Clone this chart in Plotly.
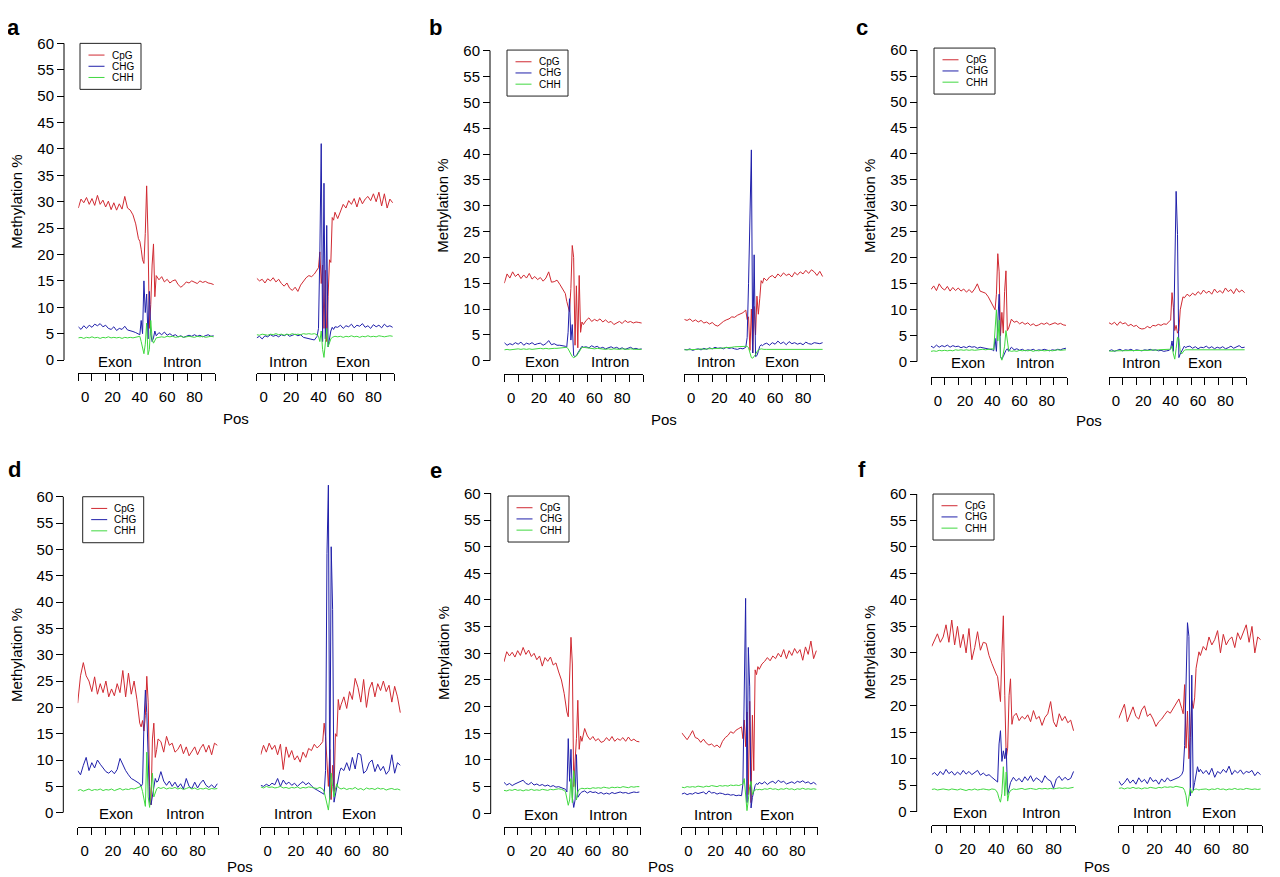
import plotly.graph_objects as go

W, H = 1280, 877
OFF = 8            # the page body adds an 8px margin around the figure
YSCALE = 885 / 877  # the photo squeezes 885 page rows into 877
FW, FH = W - 2 * OFF, H

# positions along each flank (denser around the splice junction)
POS = list(range(-5, 40, 2)) + list(range(40, 53)) + list(range(54, 95, 2))

# ---- panel a ----
a_ei_cpg = [28.8, 30.5, 29.8, 30.8, 29.5, 30.6, 29.3, 31.2, 29.5, 30.3, 29.0, 30.1, 28.5, 29.8, 28.4, 29.6, 28.6, 31.0, 28.8, 28.4, 27.5, 25.8, 23.0,
            22.5, 21.0, 19.0, 18.3, 24.0, 33.0, 23.5, 6.0, 10.5, 18.0, 22.0, 12.0, 16.0,
            15.2, 15.8, 14.8, 15.3, 14.6, 15.0, 15.2, 14.3, 13.8, 14.2, 14.8, 14.6, 15.0, 14.8, 14.5, 15.0, 14.7, 14.9, 14.6, 14.5, 14.3]
a_ei_chg = [6.3, 5.8, 6.5, 6.0, 6.6, 6.2, 6.8, 6.5, 6.9, 6.3, 6.6, 6.0, 5.8, 6.3, 5.6, 6.0, 5.8, 6.4, 5.7, 5.6, 5.4, 5.2, 5.0,
            4.8, 7.5, 5.0, 15.0, 9.0, 12.5, 4.0, 13.0, 5.0, 3.5, 4.2, 5.5, 4.6,
            5.2, 4.8, 5.3, 4.7, 5.0, 4.6, 4.8, 4.4, 4.6, 4.3, 4.5, 4.7, 4.5, 4.8, 4.5, 4.7, 4.4, 4.6, 4.8, 4.5, 4.6]
a_ei_chh = [4.2, 4.3, 4.1, 4.3, 4.2, 4.4, 4.2, 4.3, 4.1, 4.3, 4.2, 4.4, 4.2, 4.3, 4.2, 4.3, 4.1, 4.3, 4.2, 4.3, 4.2, 4.3, 4.4,
            4.5, 3.5, 2.5, 1.2, 3.0, 7.0, 1.0, 2.0, 7.5, 4.0, 3.2, 3.8, 4.2,
            4.3, 4.4, 4.3, 4.5, 4.4, 4.5, 4.3, 4.4, 4.5, 4.3, 4.4, 4.5, 4.4, 4.3, 4.5, 4.4, 4.5, 4.3, 4.4, 4.5, 4.4]
a_ie_cpg = [15.5, 15.0, 15.3, 14.6, 15.4, 15.0, 15.6, 14.8, 15.3, 14.5, 14.0, 14.6, 13.6, 13.2, 13.8, 13.0, 14.2, 15.0, 15.6, 16.0, 15.8, 16.3, 17.0,
            17.5, 20.5, 14.5, 18.0, 6.0, 17.0, 3.5, 12.0, 19.0, 18.5, 27.0, 26.5, 28.0,
            26.8, 28.0, 29.5, 28.8, 30.2, 29.5, 30.6, 29.0, 30.8, 29.6, 30.5, 31.0, 30.2, 31.5, 30.0, 31.8, 29.2, 31.5, 28.8, 30.5, 29.8]
a_ie_chg = [4.2, 4.5, 4.0, 4.6, 4.4, 4.8, 4.5, 4.7, 4.4, 4.8, 4.6, 4.9, 4.5, 4.7, 4.9, 4.6, 4.8, 4.3, 4.2, 4.0, 3.9, 3.8, 4.5,
            6.0, 20.5, 41.0, 3.5, 33.5, 4.0, 25.5, 2.5, 4.5, 5.5, 6.2, 5.8, 6.3,
            6.2, 6.6, 6.0, 6.5, 6.3, 6.8, 6.1, 6.6, 6.4, 6.9, 6.2, 6.5, 6.0, 6.7, 6.3, 6.6, 6.1, 6.8, 6.3, 6.5, 6.2]
a_ie_chh = [4.8, 4.7, 4.9, 4.8, 4.7, 4.9, 4.8, 5.0, 4.8, 4.9, 4.7, 4.9, 4.8, 5.0, 4.8, 4.9, 4.8, 5.0, 4.9, 5.0, 4.9, 5.0, 4.8,
            4.5, 3.5, 5.5, 2.0, 0.5, 4.0, 6.0, 2.5, 3.5, 4.0, 4.3, 4.4, 4.5,
            4.4, 4.5, 4.3, 4.5, 4.4, 4.6, 4.4, 4.5, 4.3, 4.5, 4.4, 4.6, 4.4, 4.5, 4.4, 4.6, 4.5, 4.4, 4.5, 4.6, 4.5]

# ---- panel b ----
b_ei_cpg = [15.0, 16.8, 16.0, 17.2, 16.3, 16.8, 15.9, 16.6, 16.0, 16.9, 15.8, 16.3, 15.7, 16.1, 15.4, 16.0, 17.2, 15.2, 15.3, 15.6, 14.8, 14.0, 13.0,
            11.5, 10.5, 9.5, 14.0, 22.3, 20.0, 3.0, 14.5, 2.5, 16.5, 5.5, 7.5, 7.0,
            7.8, 8.3, 7.6, 8.0, 7.7, 8.1, 7.5, 7.9, 7.4, 7.6, 7.0, 7.3, 7.6, 7.2, 7.8, 7.4, 7.6, 7.3, 7.5, 7.4, 7.3]
b_ei_chg = [3.5, 3.0, 3.3, 3.1, 3.5, 3.2, 3.6, 3.0, 3.4, 3.2, 3.5, 3.1, 3.3, 3.4, 3.0, 3.3, 3.9, 3.1, 3.3, 3.0, 3.0, 2.9, 2.8,
            2.6, 5.5, 12.0, 4.0, 7.0, 1.0, 0.8, 1.0, 1.5, 2.0, 2.5, 2.8, 2.6,
            2.7, 2.5, 2.9, 2.6, 2.8, 2.4, 2.6, 2.3, 2.5, 2.7, 2.4, 2.6, 2.3, 2.5, 2.2, 2.4, 2.6, 2.3, 2.4, 2.2, 2.3]
b_ei_chh = [2.1, 2.2, 2.1, 2.2, 2.2, 2.3, 2.2, 2.3, 2.2, 2.3, 2.2, 2.3, 2.3, 2.4, 2.3, 2.4, 2.3, 2.4, 2.4, 2.4, 2.5, 2.5, 2.6,
            2.6, 2.3, 1.8, 1.2, 0.8, 0.6, 0.7, 0.9, 1.3, 1.8, 2.3, 2.6, 2.6,
            2.5, 2.4, 2.4, 2.3, 2.4, 2.3, 2.3, 2.2, 2.3, 2.2, 2.3, 2.2, 2.2, 2.3, 2.2, 2.2, 2.3, 2.2, 2.2, 2.2, 2.2]
b_ie_cpg = [8.0, 7.8, 8.1, 7.6, 7.9, 7.5, 7.8, 7.3, 7.5, 7.1, 7.4, 6.9, 6.7, 7.2, 7.6, 7.9, 8.1, 8.5, 8.4, 8.8, 9.0, 9.3, 9.8,
            8.0, 8.5, 2.0, 10.0, 1.5, 10.5, 5.0, 12.5, 9.0, 12.0, 15.5, 15.0, 16.0,
            15.5, 16.2, 16.5, 16.0, 16.8, 16.3, 17.0, 16.5, 16.8, 16.2, 17.1, 16.6, 17.2, 16.8, 17.5, 16.9, 17.6, 17.2, 16.5, 17.3, 16.3]
b_ie_chg = [2.2, 2.1, 2.3, 2.0, 2.2, 2.3, 2.1, 2.4, 2.2, 2.5, 2.3, 2.6, 2.4, 2.5, 2.3, 2.6, 2.4, 2.5, 2.3, 2.2, 2.4, 2.3, 2.6,
            4.5, 15.0, 30.5, 40.8, 1.5, 20.5, 0.8, 1.0, 1.8, 2.8, 3.1, 2.9, 3.2,
            3.4, 3.0, 3.5, 3.2, 3.8, 3.3, 3.6, 3.1, 3.7, 3.3, 3.5, 3.2, 3.4, 3.1, 3.6, 3.3, 3.2, 3.5, 3.4, 3.3, 3.5]
b_ie_chh = [2.1, 2.1, 2.2, 2.1, 2.2, 2.2, 2.3, 2.2, 2.3, 2.3, 2.4, 2.3, 2.4, 2.4, 2.5, 2.5, 2.6, 2.6, 2.7, 2.7, 2.8, 2.8, 2.8,
            2.8, 2.5, 1.5, 0.6, 0.5, 0.8, 1.2, 1.8, 2.1, 2.2, 2.3, 2.2, 2.2,
            2.2, 2.2, 2.3, 2.2, 2.2, 2.3, 2.2, 2.2, 2.3, 2.2, 2.2, 2.3, 2.2, 2.2, 2.3, 2.2, 2.2, 2.3, 2.2, 2.2, 2.2]

# ---- panel c ----
c_ei_cpg = [13.9, 14.6, 13.7, 15.0, 14.2, 13.8, 14.5, 13.6, 14.3, 13.7, 14.2, 13.6, 14.0, 13.4, 13.9, 13.3, 14.0, 15.0, 13.6, 13.4, 13.2, 12.5, 11.5,
            10.9, 10.3, 10.0, 13.0, 20.8, 17.3, 5.0, 9.5, 5.5, 13.5, 17.5, 6.0, 6.5,
            8.2, 7.6, 7.8, 7.3, 7.6, 7.2, 7.5, 7.0, 7.3, 6.9, 7.1, 7.4, 7.2, 7.5, 7.1, 7.3, 7.5, 7.2, 7.4, 7.1, 7.0]
c_ei_chg = [3.0, 2.7, 3.2, 2.8, 3.1, 2.9, 3.2, 2.8, 3.1, 2.9, 3.0, 2.7, 2.9, 2.7, 3.0, 2.8, 2.9, 2.6, 2.8, 2.7, 2.6, 2.5, 2.4,
            2.3, 2.1, 4.5, 2.0, 9.0, 13.0, 1.0, 0.5, 1.0, 1.8, 2.2, 2.5, 2.0,
            2.8, 2.3, 2.5, 2.2, 2.4, 2.1, 2.3, 2.2, 2.4, 2.1, 2.3, 2.2, 2.4, 2.3, 2.1, 2.3, 2.2, 2.4, 2.3, 2.5, 2.6]
c_ei_chh = [2.0, 2.1, 2.0, 2.2, 2.1, 2.2, 2.1, 2.2, 2.1, 2.3, 2.2, 2.3, 2.2, 2.3, 2.2, 2.3, 2.2, 2.3, 2.3, 2.4, 2.3, 2.4, 2.4,
            2.5, 2.3, 7.0, 10.0, 4.0, 8.0, 1.0, 0.3, 1.5, 3.0, 6.0, 3.5, 2.2,
            2.0, 2.1, 2.0, 2.2, 2.1, 2.2, 2.1, 2.2, 2.0, 2.2, 2.1, 2.2, 2.1, 2.2, 2.2, 2.1, 2.2, 2.3, 2.2, 2.2, 2.3]
c_ie_cpg = [7.5, 7.2, 7.6, 7.0, 7.7, 7.3, 7.5, 6.9, 7.2, 6.8, 7.0, 6.5, 6.3, 6.4, 6.8, 6.5, 7.0, 6.9, 7.2, 7.0, 7.3, 7.2, 7.8,
            8.0, 13.3, 10.5, 6.0, 7.0, 5.5, 6.0, 10.0, 11.0, 12.5, 12.3, 12.8, 13.0,
            12.6, 13.2, 12.8, 13.5, 13.0, 13.8, 13.2, 13.6, 13.0, 14.0, 13.3, 13.7, 13.2, 14.2, 13.5, 13.9, 13.1, 14.1, 13.4, 13.8, 13.3]
c_ie_chg = [2.1, 2.3, 2.0, 2.2, 2.4, 2.1, 2.3, 2.2, 2.4, 2.1, 2.3, 2.2, 2.1, 2.3, 2.2, 2.4, 2.2, 2.3, 2.1, 2.2, 2.0, 2.1, 2.2,
            2.5, 4.0, 2.0, 16.5, 32.8, 24.5, 0.8, 1.5, 2.0, 2.6, 3.0, 2.7, 2.9,
            3.0, 2.6, 2.9, 2.5, 2.8, 2.7, 3.0, 2.6, 2.9, 2.5, 2.8, 2.6, 2.9, 2.5, 2.7, 3.0, 2.6, 2.8, 3.1, 2.7, 2.8]
c_ie_chh = [2.1, 2.0, 2.1, 2.1, 2.2, 2.1, 2.2, 2.1, 2.2, 2.2, 2.1, 2.2, 2.2, 2.1, 2.2, 2.2, 2.3, 2.2, 2.3, 2.3, 2.3, 2.4, 2.4,
            2.5, 3.0, 1.5, 0.5, 2.5, 4.7, 4.5, 2.0, 1.5, 2.0, 2.2, 2.3, 2.3,
            2.3, 2.2, 2.3, 2.3, 2.2, 2.3, 2.2, 2.3, 2.3, 2.2, 2.3, 2.2, 2.3, 2.3, 2.2, 2.3, 2.2, 2.3, 2.3, 2.2, 2.3]

# ---- panel d ----
d_ei_cpg = [20.8, 26.0, 28.5, 26.0, 25.0, 23.0, 25.8, 22.5, 24.5, 22.8, 25.0, 22.0, 23.5, 22.2, 24.5, 22.8, 27.0, 22.0, 26.5, 22.5, 25.0, 21.5, 17.0,
            16.3, 17.5, 15.5, 18.5, 25.9, 21.0, 5.0, 1.5, 14.0, 17.0, 10.5, 12.0, 14.0,
            13.5, 11.5, 14.5, 12.8, 13.2, 11.5, 12.0, 13.0, 11.2, 12.5, 10.8, 11.8, 12.5, 11.0, 12.2, 13.0, 11.5, 12.8, 11.0, 13.2, 12.8]
d_ei_chg = [8.0, 7.2, 9.0, 10.5, 8.0, 9.5, 8.5, 10.0, 9.2, 8.5, 7.8, 7.5, 8.0, 7.4, 8.2, 10.3, 9.0, 8.0, 7.2, 6.5, 6.2, 5.8, 5.5,
            5.0, 5.5, 17.0, 23.3, 19.0, 8.0, 2.0, 1.5, 3.5, 5.5, 6.5, 5.8, 6.0,
            7.8, 6.0, 5.2, 6.0, 5.0, 5.8, 4.8, 5.5, 4.5, 6.5, 5.0, 4.6, 5.8, 4.7, 5.6, 6.2, 5.2, 4.8, 5.3, 4.7, 5.5]
d_ei_chh = [4.2, 4.4, 4.1, 4.3, 4.5, 4.2, 4.4, 4.3, 4.5, 4.2, 4.4, 4.3, 4.5, 4.2, 4.4, 4.6, 4.3, 4.5, 4.4, 4.6, 4.5, 4.7, 4.8,
            5.0, 4.0, 2.5, 1.2, 11.5, 3.0, 1.0, 4.0, 7.5, 3.0, 4.0, 4.5, 4.8,
            4.6, 4.8, 4.5, 4.7, 4.6, 4.8, 4.5, 4.7, 4.4, 4.6, 4.8, 4.5, 4.7, 4.4, 4.6, 4.5, 4.7, 4.4, 4.6, 4.5, 4.6]
d_ie_cpg = [11.0, 12.8, 11.5, 13.2, 12.0, 12.8, 11.0, 13.0, 8.2, 12.5, 10.5, 11.8, 10.0, 10.8, 9.6, 11.5, 10.5, 12.2, 11.8, 13.0, 12.3, 12.8, 13.5,
            17.0, 14.5, 9.0, 5.0, 12.0, 2.5, 9.0, 4.0, 15.0, 14.5, 21.5, 19.5, 20.5,
            22.0, 19.8, 23.0, 21.5, 25.5, 23.8, 21.0, 25.3, 20.0, 23.5, 24.8, 22.0, 24.5, 23.2, 25.0, 23.0, 24.2, 21.0, 24.0, 22.0, 19.0]
d_ie_chg = [5.2, 5.0, 5.4, 5.1, 5.6, 5.3, 6.5, 5.0, 6.2, 5.4, 5.8, 5.2, 5.6, 5.0, 5.5, 5.9, 5.3, 5.7, 5.1, 4.6, 4.3, 4.0, 3.8,
            3.5, 8.0, 49.2, 62.2, 2.5, 50.5, 38.6, 2.0, 3.5, 5.0, 6.5, 7.8, 8.5,
            8.0, 9.5, 8.0, 10.5, 8.3, 11.3, 11.0, 7.5, 8.0, 9.5, 10.0, 7.8, 9.2, 8.0, 8.8, 7.3, 8.0, 11.0, 7.5, 9.5, 9.0]
d_ie_chh = [4.9, 4.7, 5.0, 4.8, 4.9, 4.7, 4.8, 5.0, 4.7, 4.8, 4.6, 4.8, 4.7, 4.9, 4.6, 4.8, 4.7, 4.9, 4.8, 4.7, 4.6, 4.8, 4.5,
            4.0, 3.0, 1.5, 0.5, 3.0, 7.5, 5.0, 3.0, 4.5, 5.5, 4.8, 4.6, 4.5,
            4.7, 4.4, 4.6, 4.5, 4.8, 4.4, 4.6, 4.3, 4.7, 4.5, 4.6, 4.4, 4.7, 4.5, 4.6, 4.3, 4.5, 4.6, 4.4, 4.5, 4.3]

# ---- panel e ----
e_ei_cpg = [28.4, 30.3, 29.5, 30.2, 29.3, 30.5, 29.6, 31.1, 29.8, 30.6, 29.4, 30.0, 28.8, 29.5, 27.6, 29.2, 28.5, 29.3, 27.8, 28.2, 26.5, 25.0, 22.5,
            20.6, 19.0, 18.1, 26.0, 33.0, 28.0, 5.0, 9.8, 14.0, 21.2, 12.0, 14.5, 13.5,
            15.9, 14.5, 13.8, 14.4, 13.6, 14.0, 13.3, 13.5, 14.2, 13.6, 14.4, 13.5, 14.0, 13.7, 14.2, 13.5, 14.3, 13.6, 13.9, 13.5, 13.4]
e_ei_chg = [5.8, 5.3, 5.6, 5.2, 5.5, 5.7, 6.0, 6.2, 5.6, 5.4, 5.8, 5.3, 5.5, 5.2, 5.4, 5.1, 5.3, 5.0, 5.2, 4.9, 5.0, 4.8, 4.6,
            4.5, 4.0, 14.0, 6.0, 12.0, 3.0, 1.1, 2.5, 11.0, 3.0, 3.5, 3.8, 4.0,
            4.2, 3.8, 4.1, 3.9, 4.0, 3.7, 3.9, 3.6, 3.8, 3.6, 3.9, 3.7, 3.8, 4.0, 3.8, 3.9, 3.7, 3.9, 4.0, 3.9, 4.0]
e_ei_chh = [4.3, 4.2, 4.4, 4.3, 4.5, 4.3, 4.4, 4.2, 4.4, 4.3, 4.5, 4.3, 4.4, 4.3, 4.5, 4.4, 4.3, 4.5, 4.4, 4.5, 4.6, 4.5, 4.3,
            4.0, 3.0, 1.5, 2.5, 6.5, 2.0, 8.0, 5.0, 2.5, 4.0, 4.5, 4.6, 4.7,
            4.6, 4.7, 4.6, 4.8, 4.7, 4.8, 4.7, 4.9, 4.8, 4.7, 4.9, 4.8, 4.9, 4.8, 5.0, 4.9, 4.8, 5.0, 4.9, 5.0, 5.0]
e_ie_cpg = [15.1, 14.5, 13.8, 14.6, 15.5, 14.2, 14.0, 13.3, 13.9, 13.2, 12.8, 13.0, 12.5, 12.8, 12.3, 13.5, 14.2, 14.6, 15.3, 15.0, 15.6, 15.9, 16.2,
            14.0, 17.5, 12.5, 19.0, 3.5, 21.0, 2.0, 18.4, 8.0, 26.9, 26.0, 27.5, 27.0,
            28.0, 28.5, 29.2, 28.6, 29.5, 29.0, 30.0, 29.3, 30.7, 29.0, 30.5, 29.6, 30.9, 30.0, 30.7, 28.7, 31.2, 29.8, 32.3, 29.0, 30.5]
e_ie_chg = [3.6, 3.8, 3.5, 3.7, 3.6, 3.9, 3.7, 3.8, 4.0, 3.6, 4.2, 3.8, 3.9, 3.6, 3.8, 3.7, 3.5, 3.6, 3.4, 3.5, 3.3, 3.4, 3.3,
            5.5, 19.7, 40.3, 2.0, 31.1, 23.7, 1.0, 3.0, 4.5, 5.2, 5.6, 5.4, 5.8,
            5.5, 5.9, 5.4, 5.8, 6.0, 5.6, 6.2, 5.8, 6.0, 5.5, 5.7, 5.9, 5.6, 6.0, 5.8, 6.1, 5.7, 5.9, 5.5, 5.8, 5.4]
e_ie_chh = [4.9, 4.8, 5.0, 4.9, 5.0, 4.9, 5.1, 5.0, 4.9, 5.1, 5.0, 5.2, 5.1, 5.0, 5.2, 5.1, 5.2, 5.1, 5.3, 5.2, 5.3, 5.2, 5.4,
            5.5, 6.5, 3.0, 0.5, 2.5, 5.0, 6.0, 3.5, 4.2, 4.4, 4.5, 4.4, 4.5,
            4.4, 4.6, 4.5, 4.7, 4.5, 4.6, 4.4, 4.6, 4.5, 4.7, 4.5, 4.6, 4.4, 4.6, 4.5, 4.7, 4.5, 4.6, 4.5, 4.6, 4.5]

# ---- panel f ----
f_ei_cpg = [31.2, 32.5, 33.6, 32.0, 33.0, 35.3, 32.0, 36.2, 31.5, 35.0, 31.0, 33.5, 30.0, 34.6, 28.7, 31.0, 34.0, 30.5, 32.0, 31.8, 29.5, 28.0, 26.5,
            26.0, 25.5, 23.0, 20.8, 30.0, 37.0, 22.0, 10.1, 12.0, 22.0, 25.1, 16.5, 18.0,
            18.6, 17.2, 18.0, 17.5, 18.3, 17.0, 19.1, 17.5, 18.0, 16.3, 17.8, 18.5, 20.8, 17.0, 16.0, 18.5, 17.2, 18.0, 16.8, 17.3, 15.3]
f_ei_chg = [7.0, 7.4, 6.8, 7.6, 7.0, 8.0, 7.2, 7.6, 6.9, 7.5, 7.0, 7.8, 7.1, 7.6, 7.0, 7.4, 7.8, 6.9, 7.3, 6.8, 7.0, 6.5, 6.0,
            5.8, 5.6, 12.8, 15.3, 9.5, 11.5, 10.0, 12.0, 3.2, 4.5, 5.5, 6.0, 6.5,
            5.8, 6.3, 5.6, 6.6, 5.9, 6.8, 5.7, 6.4, 6.0, 5.5, 6.8, 6.1, 5.8, 4.4, 6.2, 6.7, 5.9, 6.5, 6.0, 6.3, 7.6]
f_ei_chh = [4.2, 4.3, 4.1, 4.2, 4.3, 4.2, 4.1, 4.3, 4.2, 4.1, 4.3, 4.2, 4.0, 4.2, 4.1, 4.3, 4.1, 4.2, 4.3, 4.2, 4.1, 4.3, 4.2,
            4.0, 3.5, 2.5, 1.8, 3.5, 8.5, 3.0, 7.5, 2.0, 3.5, 4.0, 4.2, 4.3,
            4.2, 4.3, 4.4, 4.2, 4.3, 4.4, 4.3, 4.2, 4.4, 4.3, 4.4, 4.3, 4.4, 4.3, 4.4, 4.5, 4.4, 4.5, 4.4, 4.5, 4.6]
f_ie_cpg = [17.6, 19.0, 20.3, 17.0, 18.5, 19.8, 18.0, 17.5, 19.2, 20.0, 18.0, 18.5, 17.5, 16.1, 17.0, 17.5, 18.3, 19.0, 18.6, 19.5, 20.5, 21.3, 19.5,
            18.5, 24.0, 12.0, 19.0, 10.0, 14.0, 21.0, 19.5, 21.5, 27.1, 28.5, 30.2, 29.5,
            31.2, 30.5, 33.0, 31.5, 32.5, 34.2, 30.0, 33.5, 31.5, 32.5, 33.0, 31.0, 33.8, 32.5, 34.0, 35.3, 32.0, 35.0, 30.0, 33.0, 32.5]
f_ie_chg = [5.8, 5.0, 5.5, 6.3, 5.4, 6.0, 5.2, 6.4, 5.6, 6.1, 5.3, 6.5, 5.7, 6.0, 5.2, 6.2, 5.6, 6.4, 5.8, 6.0, 6.2, 6.5, 7.0,
            7.7, 12.5, 28.0, 35.7, 33.1, 3.0, 25.8, 4.0, 5.5, 7.0, 8.5, 7.5, 8.0,
            7.2, 7.8, 7.0, 8.2, 6.5, 7.6, 7.2, 8.0, 7.4, 8.6, 7.0, 7.8, 7.3, 7.9, 7.1, 7.6, 7.4, 7.8, 6.8, 7.5, 7.0]
f_ie_chh = [4.4, 4.5, 4.3, 4.5, 4.4, 4.6, 4.4, 4.5, 4.3, 4.5, 4.4, 4.6, 4.5, 4.4, 4.6, 4.5, 4.7, 4.6, 4.7, 4.6, 4.8, 4.7, 4.6,
            4.5, 4.0, 3.0, 1.0, 2.5, 4.5, 3.5, 4.0, 4.2, 4.3, 4.2, 4.1, 4.2,
            4.2, 4.3, 4.1, 4.3, 4.2, 4.4, 4.2, 4.3, 4.1, 4.3, 4.2, 4.4, 4.2, 4.3, 4.2, 4.4, 4.3, 4.2, 4.3, 4.2, 4.3]

CONTEXTS = ["CpG", "CHG", "CHH"]
COLORS = {"CpG": "#d02a32", "CHG": "#2020aa", "CHH": "#40d840"}
Y_TICKS = list(range(0, 61, 5))
X_LABELS = [0, 20, 40, 60, 80]
X_TICKS = list(range(-5, 96, 10))

SERIES = {
    "a": ([a_ei_cpg, a_ei_chg, a_ei_chh], [a_ie_cpg, a_ie_chg, a_ie_chh]),
    "b": ([b_ei_cpg, b_ei_chg, b_ei_chh], [b_ie_cpg, b_ie_chg, b_ie_chh]),
    "c": ([c_ei_cpg, c_ei_chg, c_ei_chh], [c_ie_cpg, c_ie_chg, c_ie_chh]),
    "d": ([d_ei_cpg, d_ei_chg, d_ei_chh], [d_ie_cpg, d_ie_chg, d_ie_chh]),
    "e": ([e_ei_cpg, e_ei_chg, e_ei_chh], [e_ie_cpg, e_ie_chg, e_ie_chh]),
    "f": ([f_ei_cpg, f_ei_chg, f_ei_chh], [f_ie_cpg, f_ie_chg, f_ie_chh]),
}

# pixel layout of each panel (measured on the 1280x877 picture)
GEOM = {
    "a": dict(yline=64.0, y0=360.0, y60=43.3, segs=[(78.3, 215.0), (256.7, 394.0)], xline=373.3, letter=(13, 27), legend=(80, 43.3), pos_y=418),
    "b": dict(yline=490.0, y0=360.7, y60=50.6, segs=[(504.3, 643.0), (684.3, 824.0)], xline=374.3, letter=(435, 27), legend=(507, 50), pos_y=419),
    "c": dict(yline=917.0, y0=361.7, y60=50.0, segs=[(931.0, 1067.3), (1109.0, 1246.0)], xline=377.0, letter=(862, 27), legend=(934, 48), pos_y=420),
    "d": dict(yline=63.3, y0=812.7, y60=496.7, segs=[(77.7, 218.7), (260.7, 401.7)], xline=826.7, letter=(14, 469), legend=(82.7, 496.7), pos_y=866),
    "e": dict(yline=490.7, y0=813.3, y60=493.3, segs=[(504.0, 640.7), (681.7, 817.7)], xline=826.7, letter=(436, 470), legend=(508, 496), pos_y=866),
    "f": dict(yline=916.7, y0=811.7, y60=494.0, segs=[(931.7, 1075.0), (1118.7, 1262.0)], xline=825.0, letter=(862, 469), legend=(933, 494), pos_y=866),
}
SEG_TEXT = [[("Exon", 22), ("Intron", 71)], [("Intron", 18), ("Exon", 65)]]
YMAX = 64
FONT = "Liberation Sans, Arial, sans-serif"


def px(x):
    return (x - OFF) / FW


def py(y):
    return 1 - (y * YSCALE - OFF) / FH


fig = go.Figure()
layout = dict(width=FW, height=FH, margin=dict(l=0, r=0, t=0, b=0),
              paper_bgcolor="white", plot_bgcolor="white",
              font=dict(family=FONT, color="black"), showlegend=False)
shapes, annotations = [], []


def paper_text(text, x, y, size, **kw):
    d = dict(text=text, x=px(x), y=py(y), xref="paper", yref="paper", showarrow=False,
             xanchor="center", yanchor="middle", font=dict(size=size))
    d.update(kw)
    annotations.append(d)


for i, key in enumerate(["a", "b", "c", "d", "e", "f"]):
    g = GEOM[key]
    yn = i + 1
    ykey = "yaxis" if yn == 1 else f"yaxis{yn}"
    yref = "y" if yn == 1 else f"y{yn}"
    ppu = (g["y0"] - g["y60"]) / 60
    ytop = g["y0"] - YMAX * ppu
    layout[ykey] = dict(domain=[py(g["y0"]), min(1, py(ytop))], range=[0, YMAX], anchor="free",
                        position=px(g["yline"]), tickmode="array", tickvals=Y_TICKS,
                        ticks="outside", ticklen=7, tickcolor="black", showline=False,
                        showgrid=False, zeroline=False, tickfont=dict(size=15))
    shapes.append(dict(type="line", xref="paper", yref=yref, x0=px(g["yline"]), x1=px(g["yline"]),
                       y0=0, y1=60, line=dict(color="black", width=1)))

    for s, (xl, xr) in enumerate(g["segs"]):
        xn = 2 * i + s + 1
        xkey = "xaxis" if xn == 1 else f"xaxis{xn}"
        xref = "x" if xn == 1 else f"x{xn}"
        layout[xkey] = dict(domain=[px(xl), min(1, px(xr))], range=[-5, 95], anchor="free",
                            position=py(g["xline"]), showline=True, linecolor="black", linewidth=1,
                            tickmode="array", tickvals=X_LABELS, ticks="outside", ticklen=10,
                            tickcolor="rgba(0,0,0,0)", showgrid=False, zeroline=False,
                            tickfont=dict(size=15),
                            minor=dict(tickmode="array", tickvals=X_TICKS, ticks="outside",
                                       ticklen=7, tickcolor="black", tickwidth=1, showgrid=False))
        for name, vals in zip(CONTEXTS, SERIES[key][s]):
            fig.add_trace(go.Scatter(x=POS, y=vals, mode="lines", name=name,
                                     line=dict(color=COLORS[name], width=1),
                                     xaxis=xref, yaxis=yref, hoverinfo="skip"))
        for txt, xpos in SEG_TEXT[s]:
            annotations.append(dict(text=txt, x=xpos, y=0, xref=xref, yref=yref, showarrow=False,
                                    xanchor="center", yanchor="middle", yshift=-1,
                                    font=dict(size=15)))

    # legend box in the style of the original
    lx, ly = g["legend"]
    shapes.append(dict(type="rect", xref="paper", yref="paper", x0=px(lx), x1=px(lx + 61),
                       y0=py(ly), y1=py(ly + 46), line=dict(color="#222222", width=1),
                       fillcolor="white"))
    for k, name in enumerate(CONTEXTS):
        ry = ly + 11.7 + 11.2 * k
        shapes.append(dict(type="line", xref="paper", yref="paper", x0=px(lx + 8.5), x1=px(lx + 24.5),
                           y0=py(ry), y1=py(ry), line=dict(color=COLORS[name], width=1)))
        paper_text(name, lx + 29.5, ry, 10, xanchor="left")

    paper_text("<b>%s</b>" % key, g["letter"][0], g["letter"][1], 22)
    paper_text("Methylation %", g["yline"] - 47, (g["y0"] + g["y60"]) / 2, 15, textangle=-90)
    paper_text("Pos", (g["segs"][0][0] + g["segs"][1][1]) / 2, g["pos_y"], 15)

layout["shapes"] = shapes
layout["annotations"] = annotations
fig.update_layout(**layout)
fig.write_html("out.html")
